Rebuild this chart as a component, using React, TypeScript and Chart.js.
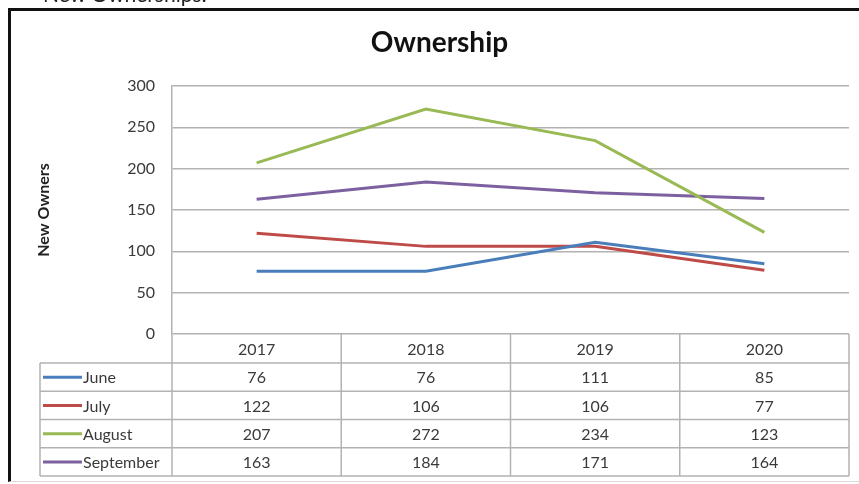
import React, { useEffect, useRef } from "react";
import { Chart, registerables } from "chart.js";

Chart.register(...registerables);

const years = ["2017", "2018", "2019", "2020"];
const june = [76, 76, 111, 85];
const july = [122, 106, 106, 77];
const august = [207, 272, 234, 123];
const september = [163, 184, 171, 164];
const seriesNames = ["June", "July", "August", "September"];
const seriesColors = ["#4a7ebb", "#be4b48", "#98b954", "#7d60a0"];
const yMin = 0;
const yMax = 300;
const yStep = 50;

const FONT = "Lato, 'Open Sans', sans-serif";
const GRID = "#b2b2b2";
const TEXT = "#3a3a3a";

const tablePlugin = {
  id: "dataTable",
  afterDraw(chart: any) {
    const { ctx, chartArea } = chart;
    const xs = chart.scales.x;
    const left = chartArea.left;
    const right = chartArea.right;
    const top = chartArea.bottom;
    const headerH = 29;
    const rowH = 28.25;
    const legendLeft = 40;
    const n = years.length;
    const colW = (right - left) / n;
    const rowsTop = top + headerH;
    const bottom = rowsTop + rowH * chart.data.datasets.length;
    const line = (x1: number, y1: number, x2: number, y2: number) => {
      ctx.beginPath();
      ctx.moveTo(x1, y1);
      ctx.lineTo(x2, y2);
      ctx.stroke();
    };
    ctx.save();
    ctx.strokeStyle = GRID;
    ctx.lineWidth = 1.5;
    for (let i = 0; i <= chart.data.datasets.length; i++) {
      const y = rowsTop + i * rowH;
      line(legendLeft, y, right, y);
    }
    for (let i = 0; i <= n; i++) {
      const x = left + i * colW;
      line(x, top, x, bottom);
    }
    line(legendLeft, rowsTop, legendLeft, bottom);

    ctx.font = `16px ${FONT}`;
    ctx.fillStyle = TEXT;
    ctx.textBaseline = "middle";
    ctx.textAlign = "center";
    years.forEach((yr, i) => {
      ctx.fillText(yr, xs.getPixelForValue(i), top + headerH / 2 + 1);
    });
    chart.data.datasets.forEach((ds: any, r: number) => {
      const cy = rowsTop + r * rowH + rowH / 2 + 1;
      ctx.textAlign = "center";
      ctx.fillStyle = TEXT;
      ds.data.forEach((v: number, i: number) => {
        ctx.fillText(String(v), xs.getPixelForValue(i), cy);
      });
      ctx.strokeStyle = ds.borderColor;
      ctx.lineWidth = 3;
      line(43, cy - 1, 82, cy - 1);
      ctx.textAlign = "left";
      ctx.fillText(ds.label, 83, cy);
    });
    ctx.restore();
  },
};

export default function App() {
  const ref = useRef<HTMLCanvasElement | null>(null);

  useEffect(() => {
    if (!ref.current) return;
    const values = [june, july, august, september];
    const chart = new Chart(ref.current, {
      type: "line",
      data: {
        labels: years,
        datasets: values.map((d, i) => ({
          label: seriesNames[i],
          data: d,
          borderColor: seriesColors[i],
          backgroundColor: seriesColors[i],
          borderWidth: 3,
          pointRadius: 0,
          tension: 0,
          fill: false,
        })),
      },
      options: {
        animation: false,
        responsive: false,
        layout: { padding: { left: 30, right: 10, top: 0, bottom: 150 } },
        plugins: {
          legend: { display: false },
          tooltip: { enabled: false },
          title: {
            display: true,
            text: "Ownership",
            color: "#111",
            font: { family: FONT, size: 28, weight: "bold" },
            padding: { top: 26, bottom: 26.4 },
          },
        },
        scales: {
          x: { type: "category", offset: true, display: false },
          y: {
            min: yMin,
            max: yMax,
            ticks: {
              stepSize: yStep,
              color: TEXT,
              font: { family: FONT, size: 16 },
              padding: 17,
            },
            grid: { color: GRID, lineWidth: 1.5, drawTicks: false },
            border: { color: GRID, width: 1.5 },
            title: {
              display: true,
              text: "New Owners",
              color: "#222",
              font: { family: FONT, size: 16, weight: "bold" },
              padding: { top: 4.4, bottom: 0 },
            },
            afterFit(scale: any) {
              scale.width = 142;
            },
          },
        },
      },
      plugins: [tablePlugin],
    } as any);
    return () => chart.destroy();
  }, []);

  return (
    <div
      style={{
        position: "fixed",
        left: 0,
        top: 0,
        width: 859,
        height: 484,
        overflow: "hidden",
        background: "#fff",
      }}
    >
      <canvas
        ref={ref}
        width={859}
        height={484}
        style={{ position: "absolute", left: 0, top: 0, width: 859, height: 484 }}
      />
      <div
        style={{
          position: "absolute",
          left: 8,
          top: 8,
          width: 851,
          height: 474,
          boxSizing: "border-box",
          borderLeft: "3px solid #111",
          borderTop: "3px solid #111",
          borderBottom: "1px solid #dcdcdc",
          pointerEvents: "none",
        }}
      />
      <div
        style={{
          position: "absolute",
          left: 10,
          top: -19,
          font: `21px ${FONT}`,
          lineHeight: "25px",
          color: "#222",
          whiteSpace: "nowrap",
        }}
      >
        <span>•</span>
        <span style={{ position: "absolute", left: 33 }}>New Ownerships:</span>
      </div>
    </div>
  );
}
